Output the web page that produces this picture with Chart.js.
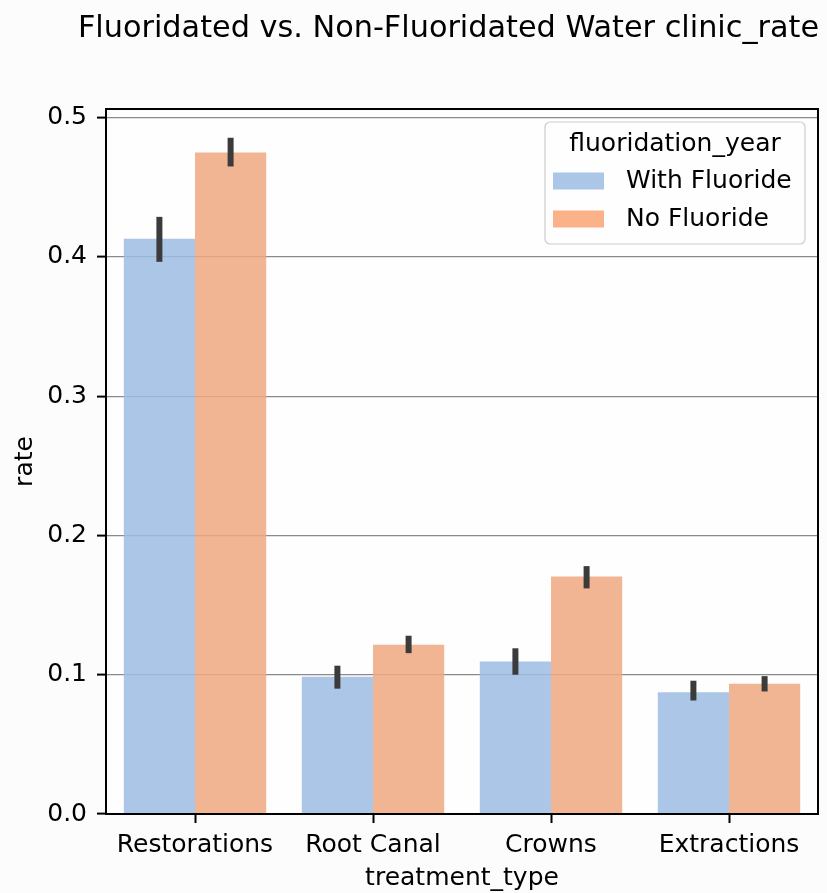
<!DOCTYPE html>
<html><head><meta charset="utf-8">
<script src="https://cdn.jsdelivr.net/npm/chart.js@4.4.0/dist/chart.umd.min.js"></script>
<style>html,body{margin:0;padding:0;background:#fcfcfc;}#wrap{width:827px;height:893px;}</style>
</head><body><div id="wrap"><canvas id="c" width="827" height="893"></canvas></div>
<script>
const chartTitle = 'Fluoridated vs. Non-Fluoridated Water clinic_rate';
const categories = ['Restorations', 'Root Canal', 'Crowns', 'Extractions'];
const legendTitle = 'fluoridation_year';
const seriesNames = ['With Fluoride', 'No Fluoride'];
const withFluoride = [0.413, 0.0985, 0.1095, 0.0875];
const withFluorideLow = [0.3965, 0.0900, 0.1000, 0.0815];
const withFluorideHigh = [0.4288, 0.1065, 0.1190, 0.0957];
const noFluoride = [0.475, 0.1215, 0.1705, 0.0935];
const noFluorideLow = [0.465, 0.1155, 0.1620, 0.0880];
const noFluorideHigh = [0.4856, 0.1280, 0.1780, 0.0990];
const yTicks = [0.0, 0.1, 0.2, 0.3, 0.4, 0.5];
const xLabel = 'treatment_type';
const yLabel = 'rate';

const FONT = 'DejaVu Sans';
const colors = ['rgba(158,188,228,0.85)', 'rgba(240,168,128,0.85)'];
const legendSwatch = ['rgba(158,188,228,0.85)', 'rgba(250,165,115,0.85)'];
const errLow = [withFluorideLow, noFluorideLow];
const errHigh = [withFluorideHigh, noFluorideHigh];

const bgPlugin = {
  id: 'bg',
  beforeDraw(chart) {
    const { ctx, chartArea: a } = chart;
    ctx.save();
    ctx.fillStyle = '#fcfcfc';
    ctx.fillRect(0, 0, chart.width, chart.height);
    ctx.fillStyle = '#fefefe';
    ctx.fillRect(a.left, a.top, a.right - a.left, a.bottom - a.top);
    ctx.restore();
  }
};

const overlayPlugin = {
  id: 'overlay',
  afterDatasetsDraw(chart) {
    const { ctx, chartArea: a, scales } = chart;
    const y = scales.y;
    ctx.save();
    ctx.strokeStyle = '#3b3b3b';
    ctx.lineWidth = 6;
    ctx.lineCap = 'butt';
    chart.data.datasets.forEach((ds, i) => {
      const meta = chart.getDatasetMeta(i);
      meta.data.forEach((el, j) => {
        ctx.beginPath();
        ctx.moveTo(el.x, y.getPixelForValue(errLow[i][j]));
        ctx.lineTo(el.x, y.getPixelForValue(errHigh[i][j]));
        ctx.stroke();
      });
    });
    ctx.strokeStyle = '#000';
    ctx.lineWidth = 2;
    ctx.strokeRect(a.left, a.top, a.right - a.left, a.bottom - a.top);
    ctx.restore();
  },
  afterDraw(chart) {
    const { ctx, chartArea: a } = chart;
    ctx.save();
    ctx.fillStyle = '#000';
    ctx.font = '30.3px "' + FONT + '"';
    ctx.textAlign = 'center';
    ctx.textBaseline = 'alphabetic';
    ctx.fillText(chartTitle, 448.5, 37);
    const bx = a.right - 273, by = a.top + 13, bw = 260, bh = 122, r = 5;
    ctx.beginPath();
    ctx.moveTo(bx + r, by);
    ctx.arcTo(bx + bw, by, bx + bw, by + bh, r);
    ctx.arcTo(bx + bw, by + bh, bx, by + bh, r);
    ctx.arcTo(bx, by + bh, bx, by, r);
    ctx.arcTo(bx, by, bx + bw, by, r);
    ctx.closePath();
    ctx.fillStyle = 'rgba(254,254,254,0.85)';
    ctx.fill();
    ctx.strokeStyle = '#cccccc';
    ctx.lineWidth = 1.2;
    ctx.stroke();
    ctx.font = '25px "' + FONT + '"';
    ctx.fillStyle = '#000';
    ctx.textAlign = 'center';
    ctx.textBaseline = 'middle';
    ctx.fillText(legendTitle, bx + bw / 2, by + 22);
    ctx.textAlign = 'left';
    seriesNames.forEach((name, i) => {
      const cy = by + 59 + i * 38;
      ctx.fillStyle = legendSwatch[i];
      ctx.fillRect(bx + 8, cy - 8.5, 51, 17);
      ctx.fillStyle = '#000';
      ctx.fillText(name, bx + 81, cy);
    });
    ctx.restore();
  }
};

new Chart(document.getElementById('c'), {
  type: 'bar',
  data: {
    labels: categories,
    datasets: [
      { label: seriesNames[0], data: withFluoride, backgroundColor: colors[0], borderWidth: 0 },
      { label: seriesNames[1], data: noFluoride, backgroundColor: colors[1], borderWidth: 0 }
    ]
  },
  options: {
    responsive: false,
    animation: false,
    devicePixelRatio: 1,
    layout: { padding: { left: 10, right: 9, top: 109, bottom: 0 } },
    datasets: { bar: { barPercentage: 1.0, categoryPercentage: 0.8 } },
    plugins: {
      legend: { display: false },
      title: { display: false },
      tooltip: { enabled: false }
    },
    scales: {
      x: {
        afterFit: (s) => { s.height = 79; },
        ticks: { font: { family: FONT, size: 25, lineHeight: 1.0 }, color: '#000', padding: 10, maxRotation: 0 },
        grid: { display: true, drawOnChartArea: false, offset: false, tickLength: 9, tickWidth: 2, tickColor: '#000' },
        border: { color: '#000', width: 2 },
        title: { display: true, text: xLabel, font: { family: FONT, size: 25 }, color: '#000', padding: { top: 0, bottom: 0 } }
      },
      y: {
        min: 0,
        max: 0.50625,
        afterFit: (s) => { s.width = 96; },
        afterBuildTicks: (ax) => { ax.ticks = yTicks.map(v => ({ value: v })); },
        ticks: { font: { family: FONT, size: 25 }, color: '#000', padding: 10, callback: (v) => Number(v).toFixed(1) },
        grid: {
          color: (c) => (c.tick && c.tick.value === 0) ? 'rgba(0,0,0,0)' : '#8a8a8a',
          lineWidth: 1.2, tickLength: 9, tickWidth: 2, tickColor: '#000'
        },
        border: { color: '#000', width: 2 },
        title: { display: true, text: yLabel, font: { family: FONT, size: 25 }, color: '#000', padding: { top: 0, bottom: 1 } }
      }
    }
  },
  plugins: [bgPlugin, overlayPlugin]
});
</script></body></html>
